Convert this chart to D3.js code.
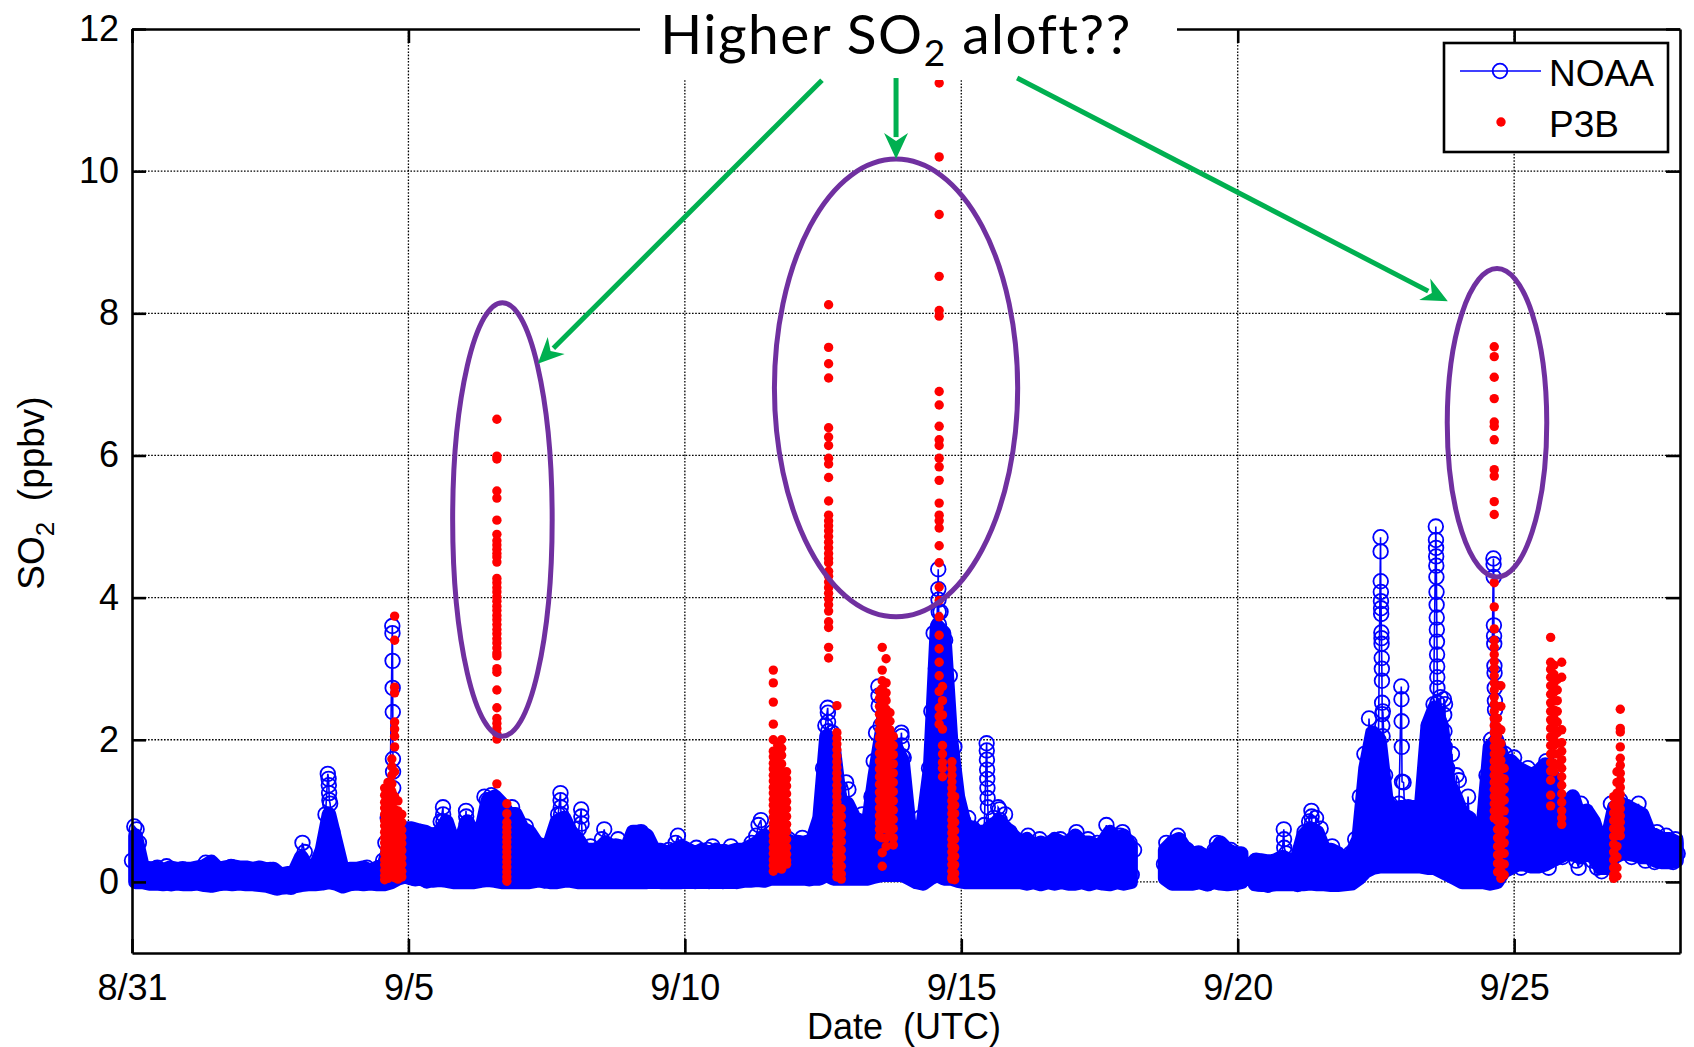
<!DOCTYPE html>
<html>
<head>
<meta charset="utf-8">
<script src="https://cdn.jsdelivr.net/npm/d3@7"></script>
<style>
  body { margin: 0; background: #fff; }
  svg { display: block; }
</style>
</head>
<body>
<div id="chart"></div>
<script>
// ---- data ----
var startDay = Date.UTC(2013, 7, 31);   // 8/31, UTC
var xTickDays = [0, 5, 10, 15, 20, 25];
var yTicks = [0, 2, 4, 6, 8, 10, 12];

// NOAA hourly SO2 (ppbv), one row per day starting 8/31 00 UTC; null = no data
var noaaHourly = [
  0.30, 0.78, 0.74, 0.55, 0.22, 0.10, 0.05, 0.18, 0.08, 0.02, 0.12, 0.20, 0.06, 0.00, 0.10, 0.22, 0.04, -0.02, 0.08, 0.15, 0.05, 0.10, 0.18, 0.06,
  0.10, 0.04, 0.15, 0.08, 0.00, 0.12, 0.18, 0.05, 0.27, 0.20, -0.03, -0.02, 0.06, 0.14, 0.02, 0.09, 0.17, 0.03, 0.08, 0.21, 0.10, 0.01, 0.13, 0.07,
  0.05, 0.12, 0.02, 0.09, 0.16, 0.04, 0.10, -0.01, 0.06, 0.13, 0.03, 0.08, 0.17, 0.05, -0.06, -0.08, 0.00, -0.05, 0.04, -0.03, 0.02, -0.07, 0.05, 0.01,
  0.08, 0.15, 0.55, 0.42, 0.12, 0.05, 0.10, 0.03, 0.14, 0.07, 0.18, 0.35, 0.95, 1.52, 1.10, 0.70, 0.22, 0.10, 0.00, 0.06, 0.12, 0.03, 0.09, 0.15,
  0.10, 0.04, 0.16, 0.08, 0.02, 0.12, 0.20, 0.06, 0.14, 0.03, 0.10, 0.18, 0.07, 0.30, 0.55, 0.90, 1.20, 3.60, 0.60, 0.35, 0.20, 0.45, 0.72, 0.30,
  0.60, 0.15, 0.72, 0.05, 0.50, 0.10, 0.65, 0.20, 0.02, 0.40, 0.12, 0.30, 0.55, 0.08, 0.85, 1.05, 0.40, 0.10, 0.25, 0.05, 0.35, 0.12, 0.02, 0.20,
  0.30, 1.00, 0.60, 0.10, 0.45, 0.05, 0.30, 0.20, 0.70, 1.20, 1.15, 0.90, 1.22, 0.60, 1.10, 0.30, 0.80, 0.15, 0.40, 0.05, 0.60, 1.05, 0.35, 0.10,
  0.20, 0.45, 0.10, 0.78, 0.30, 0.05, 0.25, 0.40, 0.08, 0.32, 0.15, 0.02, 0.28, 0.45, 0.10, 0.55, 0.70, 0.95, 1.25, 0.85, 0.40, 0.60, 0.20, 0.05,
  0.15, 0.40, 0.75, 1.02, 0.30, 0.05, 0.35, 0.50, 0.10, 0.25, 0.45, 0.02, 0.60, 0.74, 0.30, 0.08, 0.40, 0.20, 0.50, 0.60, 0.15, 0.35, 0.05, 0.30,
  0.10, 0.30, 0.55, 0.20, 0.65, 0.70, 0.40, 0.05, 0.25, 0.42, 0.12, 0.30, 0.02, 0.20, 0.38, 0.10, 0.28, 0.45, 0.15, 0.35, 0.55, 0.65, 0.25, 0.05,
  0.20, 0.35, 0.05, 0.40, 0.15, 0.48, 0.10, 0.30, 0.02, 0.25, 0.45, 0.12, 0.50, 0.20, 0.05, 0.38, 0.15, 0.42, 0.08, 0.30, 0.50, 0.10, 0.25, 0.40,
  0.15, 0.35, 0.05, 0.45, 0.20, 0.55, 0.10, 0.65, 0.80, 0.87, 0.40, 0.15, 0.60, 0.30, 0.70, 0.45, 0.20, 0.65, 0.10, 0.50, 0.30, 0.60, 0.15, 0.40,
  0.30, 0.55, 0.10, 0.62, 0.25, 0.45, 0.05, 0.35, 0.60, 0.20, 0.50, 0.90, 1.60, 2.20, 2.45, 1.80, 2.10, 1.40, 0.60, 1.20, 0.40, 0.90, 1.40, 1.30,
  0.90, 0.40, 0.85, 0.20, 0.70, 0.95, 0.30, 0.60, 0.15, 1.20, 1.70, 2.10, 2.75, 2.20, 1.50, 2.05, 1.20, 1.90, 0.90, 1.60, 0.70, 1.30, 2.10, 1.75,
  1.00, 0.40, 0.20, 0.70, 0.10, 0.50, 0.90, 0.30, 0.05, 0.80, 1.60, 2.40, 3.50, 3.00, 4.40, 3.80, 2.60, 3.40, 1.80, 2.90, 1.20, 1.90, 0.60, 0.30,
  0.20, 0.85, 0.40, 0.90, 0.10, 0.75, 0.30, 0.60, 0.05, 0.45, 0.80, 1.95, 0.70, 0.20, 0.90, 0.35, 1.05, 0.80, 0.15, 0.95, 0.40, 0.70, 0.10, 0.60,
  0.30, 0.55, 0.05, 0.45, 0.20, 0.65, 0.10, 0.40, 0.02, 0.35, 0.60, 0.15, 0.50, 0.05, 0.30, 0.55, 0.12, 0.45, 0.25, 0.60, 0.08, 0.40, 0.20, 0.50,
  0.15, 0.50, 0.70, 0.20, 0.45, 0.05, 0.35, 0.60, 0.10, 0.40, 0.25, 0.55, 0.02, 0.30, 0.50, 0.80, 0.20, 0.60, 0.10, 0.45, 0.30, 0.65, 0.70, 0.40,
  0.30, 0.55, 0.10, 0.45, null, null, null, null, null, null, null, null, null, null, null, null, 0.25, 0.55, 0.10, 0.40, 0.20, 0.50, 0.65, 0.15,
  0.05, 0.30, 0.45, 0.10, 0.35, 0.00, 0.25, 0.40, 0.05, 0.20, 0.35, -0.02, 0.30, 0.15, 0.45, 0.55, 0.10, 0.40, 0.05, 0.30, 0.20, 0.45, 0.00, 0.25,
  0.10, 0.35, 0.05, 0.25, null, null, null, 0.15, 0.30, -0.02, 0.28, 0.05, 0.20, -0.04, 0.15, 0.25, 0.00, 0.18, 0.05, 0.22, 0.74, 0.40, 0.10, 0.25,
  0.05, 0.20, -0.03, 0.15, 0.50, 0.70, 0.30, 0.85, 1.00, 0.60, 0.90, 0.40, 0.75, 0.20, 0.05, 0.30, 0.10, 0.50, 0.20, 0.00, 0.25, 0.05, 0.32, 0.10,
  0.10, 0.40, 0.15, 0.60, 0.30, 1.20, 0.50, 1.80, 0.80, 2.30, 1.20, 2.00, 0.60, 1.70, 4.85, 2.40, 1.50, 0.40, 1.10, 0.30, 0.90, 0.25, 1.10, 2.75,
  1.40, 0.50, 1.05, 0.30, 0.90, 0.25, 0.70, 0.35, 1.00, 0.40, 1.50, 2.20, 1.00, 2.50, 5.00, 2.30, 2.60, 1.40, 2.50, 1.60, 0.50, 1.80, 0.40, 1.50,
  1.43, 0.60, 0.90, 0.35, 1.20, 0.50, 0.10, 0.35, 0.02, 0.40, 0.10, 0.80, 1.50, 0.30, 2.00, 4.55, 1.20, 0.20, 1.60, 0.60, 1.80, 0.40, 1.50, 0.30,
  1.75, 0.30, 1.50, 0.20, 1.30, 0.45, 1.60, 0.25, 1.10, 0.60, 1.45, 0.30, 1.55, 0.40, 1.70, 0.20, 1.35, 0.60, 1.00, 0.45, 1.15, 0.35, 0.90, 0.50,
  1.00, 0.40, 0.85, 0.30, 0.20, 1.10, 0.55, 0.90, 0.40, 0.75, 0.30, 0.60, 0.20, 0.45, 0.15, 0.35, 0.25, 0.70, 1.10, 0.45, 1.00, 0.40, 1.15, 0.55,
  0.50, 1.05, 0.90, 0.35, 0.95, 0.40, 1.10, 0.45, 0.85, 0.30, 0.70, 0.35, 0.60, 0.28, 0.70, 0.40, 0.55, 0.30, 0.65, 0.35, 0.50, 0.28, 0.60, 0.40
];

// range filled by the dense NOAA samples in each 3-hour block (8 blocks per day)
var noaaCloudLow = [
  0.00, 0.00, -0.02, -0.02, -0.03, -0.02, -0.02, -0.03,
  -0.03, -0.02, -0.04, -0.05, -0.03, -0.02, -0.03, -0.02,
  -0.03, -0.03, -0.04, -0.05, -0.08, -0.08, -0.07, -0.06,
  -0.04, -0.03, -0.03, -0.02, 0.00, -0.02, -0.06, -0.03,
  -0.02, -0.03, -0.02, -0.03, -0.03, 0.00, 0.05, 0.08,
  0.05, 0.05, 0.03, 0.02, 0.03, 0.02, 0.00, 0.00,
  0.00, 0.00, 0.02, 0.03, 0.02, 0.00, 0.00, 0.00,
  0.00, 0.00, 0.02, 0.02, 0.00, 0.00, 0.02, 0.02,
  0.00, 0.00, 0.00, 0.00, 0.00, 0.00, 0.00, 0.00,
  0.00, 0.00, 0.00, 0.02, 0.00, 0.00, 0.00, 0.00,
  0.02, 0.00, 0.02, 0.00, 0.02, 0.00, 0.02, 0.00,
  0.02, 0.02, 0.03, 0.02, 0.05, 0.05, 0.05, 0.05,
  0.05, 0.05, 0.05, 0.05, 0.10, 0.05, 0.05, 0.05,
  0.05, 0.05, 0.05, 0.08, 0.10, 0.10, 0.10, 0.10,
  0.05, 0.00, -0.02, 0.05, 0.10, 0.05, 0.05, 0.02,
  0.00, 0.00, 0.00, 0.00, 0.00, 0.00, 0.00, 0.00,
  0.00, -0.02, 0.00, -0.03, 0.00, -0.02, 0.00, -0.02,
  -0.02, 0.00, -0.03, 0.00, -0.02, -0.03, 0.00, -0.02,
  0.00, null, null, null, null, 0.05, -0.02, -0.02,
  -0.02, -0.02, 0.00, -0.03, 0.00, -0.02, -0.03, -0.02,
  0.00, null, -0.03, -0.04, -0.04, -0.03, -0.03, -0.03,
  -0.03, -0.03, -0.02, -0.03, -0.03, -0.04, -0.04, -0.03,
  -0.02, 0.05, 0.15, 0.20, 0.22, 0.22, 0.22, 0.22,
  0.22, 0.22, 0.22, 0.20, 0.20, 0.15, 0.10, 0.05,
  0.00, 0.00, 0.00, 0.00, -0.02, 0.00, 0.15, 0.20,
  0.25, 0.25, 0.22, 0.22, 0.25, 0.30, 0.35, 0.40,
  0.40, 0.35, 0.40, 0.35, 0.20, 0.20, 0.35, 0.40,
  0.40, 0.38, 0.35, 0.35, 0.30, 0.28, 0.28, 0.30
];
var noaaCloudHigh = [
  0.65, 0.22, 0.18, 0.20, 0.16, 0.20, 0.18, 0.18,
  0.18, 0.20, 0.22, 0.28, 0.18, 0.20, 0.22, 0.20,
  0.20, 0.18, 0.20, 0.17, 0.18, 0.10, 0.12, 0.14,
  0.35, 0.18, 0.20, 0.45, 0.95, 0.55, 0.15, 0.18,
  0.18, 0.20, 0.15, 0.20, 0.25, 0.60, 0.60, 0.75,
  0.75, 0.72, 0.70, 0.65, 0.70, 0.85, 0.55, 0.55,
  0.85, 0.65, 0.70, 1.15, 1.20, 1.10, 0.95, 0.95,
  0.75, 0.70, 0.55, 0.50, 0.55, 0.85, 0.90, 0.70,
  0.60, 0.45, 0.45, 0.45, 0.55, 0.50, 0.50, 0.45,
  0.70, 0.70, 0.65, 0.45, 0.45, 0.40, 0.45, 0.50,
  0.45, 0.40, 0.45, 0.40, 0.45, 0.40, 0.42, 0.45,
  0.45, 0.50, 0.55, 0.65, 0.55, 0.60, 0.60, 0.55,
  0.55, 0.55, 0.60, 0.90, 2.05, 1.90, 1.10, 1.10,
  0.90, 0.85, 0.80, 1.50, 2.10, 2.05, 1.90, 1.70,
  0.75, 0.55, 0.85, 1.60, 3.60, 3.50, 2.00, 1.20,
  0.80, 0.75, 0.70, 0.70, 0.80, 0.85, 0.75, 0.65,
  0.55, 0.60, 0.50, 0.55, 0.50, 0.60, 0.55, 0.55,
  0.65, 0.55, 0.55, 0.50, 0.55, 0.70, 0.60, 0.65,
  0.50, null, null, null, null, 0.45, 0.55, 0.60,
  0.45, 0.40, 0.40, 0.35, 0.40, 0.55, 0.45, 0.40,
  0.40, null, 0.30, 0.30, 0.28, 0.30, 0.35, 0.30,
  0.30, 0.65, 0.75, 0.70, 0.45, 0.45, 0.40, 0.30,
  0.40, 0.60, 1.60, 2.10, 2.00, 1.15, 1.00, 1.05,
  1.05, 1.05, 1.00, 2.20, 2.45, 2.20, 1.40, 1.20,
  0.95, 0.90, 0.40, 0.80, 1.90, 2.00, 1.70, 1.70,
  1.60, 1.55, 1.50, 1.55, 1.65, 1.50, 1.10, 1.10,
  1.20, 0.90, 1.00, 0.85, 0.55, 0.60, 1.05, 1.10,
  1.05, 1.00, 0.95, 0.70, 0.65, 0.60, 0.60, 0.55
];

// extra NOAA samples inside the short spikes: [day since 8/31, ppbv]
var noaaSpikes = [
  [3.556, 1.45], [3.560, 1.36], [3.565, 1.25], [3.570, 1.15],
  [4.711, 3.50], [4.713, 3.11], [4.715, 2.73], [4.717, 2.39], [4.720, 1.73], [4.722, 1.55], [4.725, 1.32],
  [5.628, 0.95], [5.632, 0.85],
  [6.045, 0.92], [6.050, 0.82],
  [7.752, 1.15], [7.756, 1.05], [7.760, 0.95],
  [8.128, 0.92], [8.132, 0.82],
  [12.587, 2.38], [12.590, 2.25], [12.594, 2.12], [12.597, 2.02],
  [13.503, 2.62], [13.506, 2.48],
  [13.920, 2.05], [13.925, 1.92], [13.930, 1.77],
  [14.585, 4.12], [14.588, 3.97], [14.592, 3.80], [14.596, 3.62], [14.600, 3.45], [14.610, 3.30], [14.640, 3.05], [14.660, 2.80],
  [15.461, 1.85], [15.464, 1.72], [15.467, 1.58], [15.470, 1.45], [15.473, 1.32], [15.476, 1.18], [15.480, 1.05],
  [15.690, 1.02], [15.695, 0.87],
  [20.838, 0.60], [20.842, 0.48],
  [21.337, 0.92], [21.341, 0.82],
  [22.585, 4.65], [22.587, 4.23], [22.589, 4.08], [22.591, 3.95], [22.593, 3.85], [22.595, 3.77], [22.598, 3.51], [22.600, 3.43],
  [22.602, 3.35], [22.605, 3.15], [22.607, 3.00], [22.609, 2.83], [22.612, 2.52], [22.614, 2.36], [22.616, 2.20], [22.620, 2.05],
  [22.962, 2.57], [22.965, 2.26], [22.968, 1.90], [22.972, 1.41],
  [23.586, 4.81], [23.588, 4.70], [23.590, 4.58], [23.592, 4.45], [23.594, 4.29], [23.596, 4.08], [23.598, 3.90], [23.600, 3.72],
  [23.602, 3.55], [23.604, 3.38], [23.606, 3.20], [23.608, 3.03], [23.610, 2.88], [23.612, 2.73], [23.615, 2.52],
  [23.730, 2.57], [23.735, 2.35], [23.740, 2.12], [23.745, 1.90], [23.750, 1.65], [23.755, 1.43],
  [24.628, 4.47], [24.631, 4.29], [24.634, 3.61], [24.637, 3.46], [24.640, 3.35], [24.643, 3.04], [24.646, 2.94], [24.649, 2.73],
  [24.652, 2.55], [24.655, 2.42]
];

// P3B aircraft profiles: [day since 8/31, [ppbv values along the profile]]
var p3bProfiles = [
  [4.57, [1.32, 1.22, 1.12, 1.04, 0.95, 0.86, 0.79, 0.70, 0.62, 0.55, 0.47, 0.40, 0.31, 0.24, 0.16, 0.09, 0.03]],
  [4.63, [1.40, 1.18, 1.08, 0.99, 0.90, 0.82, 0.74, 0.66, 0.58, 0.50, 0.43, 0.35, 0.27, 0.20, 0.12, 0.05]],
  [4.70, [1.73, 1.62, 1.50, 1.38, 1.27, 1.15, 1.05, 0.95, 0.85, 0.76, 0.66, 0.57, 0.47, 0.36, 0.26, 0.17, 0.08]],
  [4.75, [3.74, 3.40, 2.74, 2.66, 2.25, 2.15, 2.05, 1.90, 1.55, 1.20, 1.02, 0.88, 0.72, 0.60, 0.45, 0.32, 0.18, 0.06]],
  [4.81, [1.14, 1.00, 0.91, 0.80, 0.70, 0.61, 0.52, 0.42, 0.33, 0.24, 0.14, 0.04]],
  [4.88, [0.95, 0.84, 0.73, 0.63, 0.54, 0.44, 0.34, 0.25, 0.15, 0.07]],
  [6.60, [6.51, 5.99, 5.95, 5.50, 5.40, 5.09, 4.89, 4.80, 4.74, 4.68, 4.62, 4.57, 4.50, 4.27, 4.21, 4.14, 4.08, 4.01, 3.95, 3.88,
          3.82, 3.75, 3.69, 3.62, 3.55, 3.49, 3.42, 3.36, 3.29, 3.22, 3.18, 3.00, 2.95, 2.70, 2.45, 2.30, 2.23, 2.16, 2.08, 2.01, 1.38]],
  [6.78, [1.10, 0.96, 0.84, 0.77, 0.70, 0.63, 0.56, 0.49, 0.42, 0.35, 0.28, 0.21, 0.14, 0.07, 0.01]],
  [11.60, [2.98, 2.80, 2.53, 2.22, 2.00, 1.84, 1.76, 1.67, 1.59, 1.50, 1.42, 1.33, 1.25, 1.16, 1.08, 0.99, 0.91, 0.82, 0.74, 0.65,
           0.57, 0.48, 0.40, 0.31, 0.23, 0.15]],
  [11.68, [1.92, 1.80, 1.70, 1.58, 1.47, 1.37, 1.26, 1.15, 1.05, 0.94, 0.84, 0.73, 0.62, 0.52, 0.41, 0.30, 0.20]],
  [11.75, [2.00, 1.88, 1.78, 1.66, 1.55, 1.44, 1.33, 1.22, 1.11, 1.00, 0.90, 0.79, 0.68, 0.57, 0.46, 0.35, 0.24, 0.18]],
  [11.84, [1.55, 1.45, 1.35, 1.24, 1.13, 1.03, 0.92, 0.81, 0.71, 0.60, 0.49, 0.39, 0.30, 0.25]],
  [12.60, [8.12, 7.52, 7.29, 7.09, 6.39, 6.26, 6.14, 5.96, 5.88, 5.69, 5.36, 5.16, 5.08, 5.01, 4.94, 4.86, 4.78, 4.70, 4.62, 4.55,
           4.49, 4.37, 4.30, 4.22, 4.14, 4.06, 3.98, 3.90, 3.81, 3.66, 3.58, 3.30, 3.15]],
  [12.75, [2.48, 2.10, 2.02, 1.94, 1.86, 1.77, 1.69, 1.61, 1.53, 1.45, 1.36, 1.28, 1.20, 1.12, 1.04, 0.95, 0.87, 0.79, 0.71, 0.63,
           0.54, 0.46, 0.38, 0.30, 0.22, 0.14, 0.07]],
  [12.83, [1.03, 0.92, 0.80, 0.68, 0.57, 0.45, 0.34, 0.22, 0.11, 0.04]],
  [13.52, [2.68, 2.58, 2.47, 2.36, 2.25, 2.14, 2.03, 1.92, 1.81, 1.70, 1.59, 1.48, 1.37, 1.26, 1.15, 1.04, 0.93, 0.83, 0.74, 0.64]],
  [13.57, [3.30, 2.98, 2.83, 2.72, 2.60, 2.49, 2.38, 2.27, 2.16, 2.05, 1.94, 1.83, 1.72, 1.61, 1.50, 1.39, 1.28, 1.17, 1.06, 0.95,
           0.85, 0.75, 0.62, 0.41, 0.22]],
  [13.64, [3.14, 2.80, 2.66, 2.55, 2.43, 2.31, 2.19, 2.07, 1.95, 1.83, 1.71, 1.59, 1.47, 1.35, 1.23, 1.11, 0.99, 0.87, 0.75, 0.62, 0.50]],
  [13.71, [2.38, 2.26, 2.14, 2.02, 1.90, 1.78, 1.66, 1.54, 1.42, 1.30, 1.18, 1.06, 0.94, 0.82, 0.70]],
  [13.77, [2.05, 1.92, 1.79, 1.66, 1.53, 1.40, 1.27, 1.14, 1.01, 0.88, 0.75, 0.62, 0.52]],
  [14.60, [11.24, 10.20, 9.39, 8.52, 8.04, 7.96, 6.90, 6.71, 6.41, 6.22, 6.14, 5.96, 5.84, 5.65, 5.33, 5.16, 5.08, 4.98, 4.73, 4.49,
           4.15, 3.96, 3.73, 3.47, 3.28, 3.09, 2.90, 2.68, 2.45, 2.33, 2.22]],
  [14.66, [2.75, 2.55, 2.35, 2.15, 1.92, 1.80, 1.68, 1.60, 1.48]],
  [14.83, [1.69, 1.59, 1.50, 1.41, 1.32, 1.23, 1.14, 1.05, 0.96, 0.87, 0.78, 0.69, 0.60, 0.51, 0.42, 0.33, 0.24, 0.15, 0.07, 0.04]],
  [14.88, [1.20, 1.08, 0.96, 0.84, 0.72, 0.60, 0.48, 0.36, 0.24, 0.12, 0.03]],
  [24.64, [7.53, 7.39, 7.10, 6.80, 6.47, 6.41, 6.22, 5.80, 5.71, 5.35, 5.17, 4.21, 3.87, 3.56, 3.40, 3.30, 3.20, 3.10, 3.00, 2.90,
           2.80, 2.70, 2.60, 2.50, 2.40, 2.30, 2.20, 2.10, 2.00, 1.90, 1.80, 1.70, 1.60, 1.50, 1.40, 1.30, 1.20, 1.10, 1.00, 0.90]],
  [24.70, [2.30, 2.18, 2.06, 1.94, 1.82, 1.70, 1.58, 1.46, 1.34, 1.22, 1.10, 0.98, 0.86, 0.74, 0.62, 0.50, 0.38, 0.26, 0.14]],
  [24.76, [2.76, 2.47, 2.14, 1.95, 1.83, 1.71, 1.59, 1.47, 1.35, 1.23, 1.11, 0.99, 0.87, 0.75, 0.63, 0.51, 0.39, 0.27, 0.15, 0.05]],
  [24.82, [1.60, 1.45, 1.30, 1.15, 1.00, 0.85, 0.70, 0.55, 0.40, 0.25, 0.10]],
  [25.66, [3.44, 3.09, 2.99, 2.88, 2.76, 2.64, 2.52, 2.40, 2.28, 2.16, 2.04, 1.92, 1.80, 1.68, 1.56, 1.43, 1.22, 1.07]],
  [25.72, [3.05, 2.92, 2.80, 2.67, 2.55, 2.42, 2.30, 2.17, 2.05, 1.92, 1.80, 1.67, 1.55]],
  [25.78, [2.85, 2.70, 2.55, 2.40, 2.25, 2.10, 1.95, 1.80, 1.65]],
  [25.86, [3.09, 2.88, 2.14, 1.96, 1.84, 1.72, 1.60, 1.48, 1.36, 1.24, 1.12, 1.00, 0.90, 0.81]],
  [26.80, [1.20, 1.08, 0.97, 0.86, 0.75, 0.64, 0.53, 0.42, 0.31, 0.20, 0.10, 0.05]],
  [26.86, [1.55, 1.40, 1.25, 1.10, 0.95, 0.80, 0.65, 0.50, 0.35, 0.20, 0.08]],
  [26.92, [2.43, 2.16, 2.11, 1.90, 1.74, 1.64, 1.53, 1.43, 1.33, 1.23, 1.13, 1.03, 0.93, 0.84, 0.74, 0.65]]
];

// ---- layout ----
var svgWidth = 1694;
var svgHeight = 1047;
var plot = { left: 132, right: 1680, top: 29, bottom: 953 };
var DAY = 864e5;
var toDate = function(d) { return new Date(startDay + d * DAY); };
var ringR = 7.3;

var svg = d3.select("#chart")
    .append("svg")
    .attr("width", svgWidth)
    .attr("height", svgHeight);

var xScale = d3.scaleUtc()
    .domain([toDate(0), toDate(28)])
    .range([plot.left, plot.right]);

var yScale = d3.scaleLinear()
    .domain([-1, 12])
    .range([plot.bottom, plot.top]);

var font = "'Liberation Sans', Arial, sans-serif";

// dotted grid
var grid = svg.append("g");
grid.selectAll(".gx")
    .data(xTickDays.slice(1))
    .enter()
    .append("line")
    .attr("x1", d => xScale(toDate(d)))
    .attr("x2", d => xScale(toDate(d)))
    .attr("y1", plot.top)
    .attr("y2", plot.bottom);
grid.selectAll(".gy")
    .data(yTicks.slice(0, -1))
    .enter()
    .append("line")
    .attr("x1", plot.left)
    .attr("x2", plot.right)
    .attr("y1", d => yScale(d))
    .attr("y2", d => yScale(d));
grid.selectAll("line")
    .attr("stroke", "#000")
    .attr("stroke-width", 1.3)
    .attr("stroke-dasharray", "1.6,1.6");

// NOAA: the solid cloud of overlapping markers first
var cloud = noaaCloudLow.map((lo, i) => ({ t: (i * 3 + 1.5) / 24, lo: lo, hi: noaaCloudHigh[i] }));
var cloudArea = d3.area()
    .defined(d => d.lo !== null)
    .x(d => xScale(toDate(d.t)))
    .y0(d => yScale(d.lo))
    .y1(d => yScale(d.hi));

svg.append("path")
    .datum(cloud)
    .attr("d", cloudArea)
    .attr("fill", "#0000ff")
    .attr("stroke", "#0000ff")
    .attr("stroke-width", ringR * 2)
    .attr("stroke-linejoin", "round")
    .attr("stroke-linecap", "round");

// NOAA series: hourly values + spike samples, in time order
var noaa = noaaHourly.map((v, i) => ({ t: i / 24, v: v }))
    .concat(noaaSpikes.map(d => ({ t: d[0], v: d[1] })))
    .sort((a, b) => a.t - b.t);

var noaaLine = d3.line()
    .defined(d => d.v !== null)
    .x(d => xScale(toDate(d.t)))
    .y(d => yScale(d.v));

svg.append("path")
    .datum(noaa)
    .attr("d", noaaLine)
    .attr("fill", "none")
    .attr("stroke", "#0000ff")
    .attr("stroke-width", 1.6);

svg.append("g")
    .selectAll("circle")
    .data(noaa.filter(d => d.v !== null))
    .enter()
    .append("circle")
    .attr("cx", d => xScale(toDate(d.t)))
    .attr("cy", d => yScale(d.v))
    .attr("r", ringR)
    .attr("fill", "none")
    .attr("stroke", "#0000ff")
    .attr("stroke-width", 1.8);

// P3B points
var p3b = [];
p3bProfiles.forEach(function(p) {
    p[1].forEach(function(v) { p3b.push({ t: p[0], v: v }); });
});

svg.append("g")
    .selectAll("circle")
    .data(p3b)
    .enter()
    .append("circle")
    .attr("cx", d => xScale(toDate(d.t)))
    .attr("cy", d => yScale(d.v))
    .attr("r", 4.7)
    .attr("fill", "#ff0000");

// axes, ticks pointing in on all four sides
var bottomAxis = d3.axisBottom(xScale)
    .tickValues(xTickDays.map(toDate))
    .tickFormat(d3.utcFormat("%-m/%-d"))
    .tickSizeInner(-14).tickSizeOuter(0).tickPadding(21);
var topAxis = d3.axisTop(xScale)
    .tickValues(xTickDays.map(toDate))
    .tickFormat("")
    .tickSizeInner(-14).tickSizeOuter(0);
var leftAxis = d3.axisLeft(yScale)
    .tickValues(yTicks)
    .tickSizeInner(-14).tickSizeOuter(0).tickPadding(13);
var rightAxis = d3.axisRight(yScale)
    .tickValues(yTicks)
    .tickFormat("")
    .tickSizeInner(-14).tickSizeOuter(0);

var axes = [
    svg.append("g").attr("transform", `translate(0, ${plot.bottom})`).call(bottomAxis),
    svg.append("g").attr("transform", `translate(0, ${plot.top})`).call(topAxis),
    svg.append("g").attr("transform", `translate(${plot.left}, 0)`).call(leftAxis),
    svg.append("g").attr("transform", `translate(${plot.right}, 0)`).call(rightAxis)
];
axes.forEach(function(g) {
    g.selectAll("path, line").attr("stroke", "#000").attr("stroke-width", 2.6);
    g.selectAll("text")
        .attr("fill", "#000")
        .attr("font-family", font)
        .attr("font-size", 36);
});

// axis titles
svg.append("text")
    .attr("x", 904)
    .attr("y", 1039)
    .attr("text-anchor", "middle")
    .attr("font-family", font)
    .attr("font-size", 36)
    .style("white-space", "pre")
    .text("Date  (UTC)");

var yLabel = svg.append("text")
    .attr("transform", "translate(44, 493) rotate(-90)")
    .attr("text-anchor", "middle")
    .attr("font-family", font)
    .attr("font-size", 37)
    .style("white-space", "pre");
yLabel.append("tspan").text("SO");
yLabel.append("tspan").attr("font-size", 26).attr("dy", 10).text("2");
yLabel.append("tspan").attr("dy", -10).text("  (ppbv)");

// legend
var legend = svg.append("g");
legend.append("rect")
    .attr("x", 1444).attr("y", 43)
    .attr("width", 224).attr("height", 109)
    .attr("fill", "#fff")
    .attr("stroke", "#000")
    .attr("stroke-width", 2.6);
legend.append("line")
    .attr("x1", 1460).attr("x2", 1541)
    .attr("y1", 71).attr("y2", 71)
    .attr("stroke", "#0000ff").attr("stroke-width", 1.6);
legend.append("circle")
    .attr("cx", 1500).attr("cy", 71).attr("r", ringR)
    .attr("fill", "none").attr("stroke", "#0000ff").attr("stroke-width", 1.8);
legend.append("circle")
    .attr("cx", 1501).attr("cy", 122).attr("r", 4.7)
    .attr("fill", "#ff0000");
legend.selectAll(".lab")
    .data([["NOAA", 86], ["P3B", 137]])
    .enter()
    .append("text")
    .attr("x", 1549)
    .attr("y", d => d[1])
    .attr("font-family", font)
    .attr("font-size", 37)
    .text(d => d[0]);

// annotation: white title box over the top frame, circles and arrows
svg.append("rect")
    .attr("x", 640).attr("y", 0)
    .attr("width", 537).attr("height", 80)
    .attr("fill", "#fff");

var title = svg.append("text")
    .attr("x", 896)
    .attr("y", 54)
    .attr("text-anchor", "middle")
    .attr("font-family", "Lato, 'Open Sans', sans-serif")
    .attr("font-size", 55)
    .attr("letter-spacing", 1.5)
    .style("white-space", "pre");
title.append("tspan").text("Higher SO");
title.append("tspan").attr("font-size", 37).attr("dy", 12).text("2");
title.append("tspan").attr("dy", -12).text(" aloft??");

// ellipses given as [day, ppbv, half-width in days, half-height in ppbv]
var rings = [[6.70, 5.10, 0.90, 3.05], [13.82, 6.95, 2.20, 3.22], [24.69, 6.46, 0.90, 2.17]];
svg.append("g")
    .selectAll("ellipse")
    .data(rings)
    .enter()
    .append("ellipse")
    .attr("cx", d => xScale(toDate(d[0])))
    .attr("cy", d => yScale(d[1]))
    .attr("rx", d => xScale(toDate(d[0] + d[2])) - xScale(toDate(d[0])))
    .attr("ry", d => yScale(d[1] - d[3]) - yScale(d[1]))
    .attr("fill", "none")
    .attr("stroke", "#7030a0")
    .attr("stroke-width", 5);

// arrows from the title to each ellipse: [day, ppbv] -> [day, ppbv]
var pointers = [[12.48, 11.28, 7.34, 7.29], [13.82, 11.31, 13.82, 10.17], [16.01, 11.31, 23.80, 8.17]];
var arrowG = svg.append("g").attr("fill", "#00b050").attr("stroke", "#00b050");
pointers.forEach(function(p) {
    var x1 = xScale(toDate(p[0])), y1 = yScale(p[1]);
    var x2 = xScale(toDate(p[2])), y2 = yScale(p[3]);
    var len = Math.hypot(x2 - x1, y2 - y1);
    var ux = (x2 - x1) / len, uy = (y2 - y1) / len;
    var head = 26, half = 12, notch = 8;
    arrowG.append("line")
        .attr("x1", x1).attr("y1", y1)
        .attr("x2", x2 - ux * (head - 4)).attr("y2", y2 - uy * (head - 4))
        .attr("stroke-width", 5);
    var bx = x2 - ux * head, by = y2 - uy * head;
    var pts = [
        [x2, y2],
        [bx - uy * half, by + ux * half],
        [x2 - ux * (head - notch), y2 - uy * (head - notch)],
        [bx + uy * half, by - ux * half]
    ];
    arrowG.append("polygon")
        .attr("points", pts.map(q => q.join(",")).join(" "))
        .attr("stroke", "none");
});
</script>
</body>
</html>
